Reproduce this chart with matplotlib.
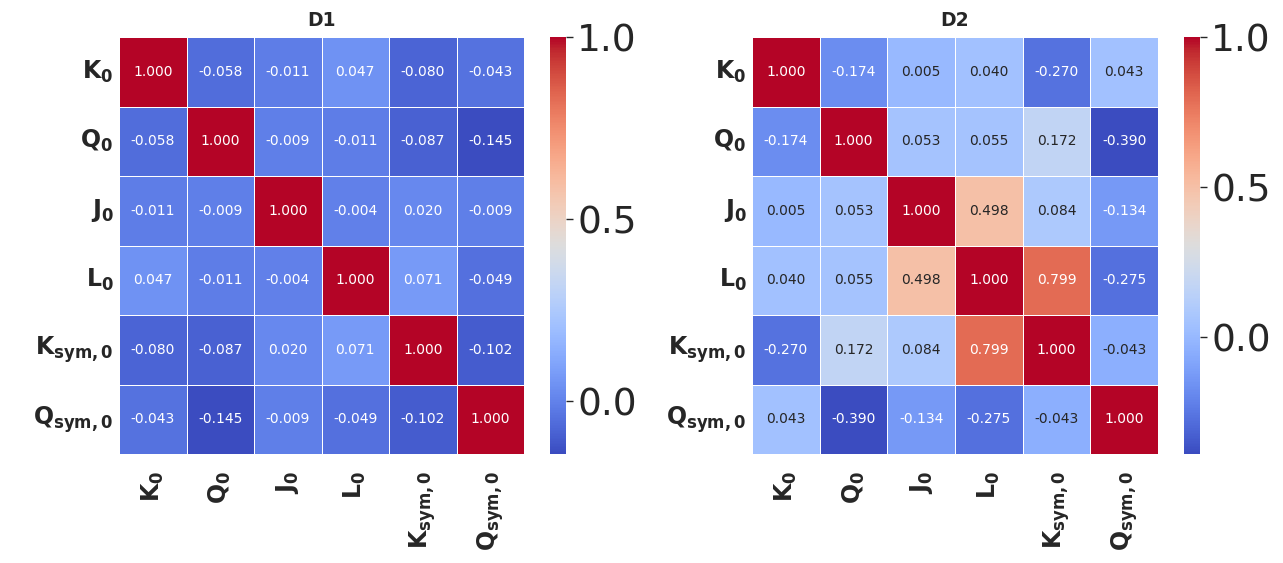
import numpy as np
import matplotlib
matplotlib.use("Agg")
import matplotlib.pyplot as plt
import seaborn as sns

labels = [r"$\mathbf{K_0}$", r"$\mathbf{Q_0}$", r"$\mathbf{J_0}$", r"$\mathbf{L_0}$",
          r"$\mathbf{K_{sym,0}}$", r"$\mathbf{Q_{sym,0}}$"]

d1 = [
    [1.000, -0.058, -0.011, 0.047, -0.080, -0.043],
    [-0.058, 1.000, -0.009, -0.011, -0.087, -0.145],
    [-0.011, -0.009, 1.000, -0.004, 0.020, -0.009],
    [0.047, -0.011, -0.004, 1.000, 0.071, -0.049],
    [-0.080, -0.087, 0.020, 0.071, 1.000, -0.102],
    [-0.043, -0.145, -0.009, -0.049, -0.102, 1.000],
]

d2 = [
    [1.000, -0.174, 0.005, 0.040, -0.270, 0.043],
    [-0.174, 1.000, 0.053, 0.055, 0.172, -0.390],
    [0.005, 0.053, 1.000, 0.498, 0.084, -0.134],
    [0.040, 0.055, 0.498, 1.000, 0.799, -0.275],
    [-0.270, 0.172, 0.084, 0.799, 1.000, -0.043],
    [0.043, -0.390, -0.134, -0.275, -0.043, 1.000],
]

titles = ["D1", "D2"]

sns.set_theme(style="white")

fig = plt.figure(figsize=(12.83, 5.63), dpi=100)
W, H = 1283, 563


def box(x0, x1, y0, y1):
    return [x0 / W, (H - y1) / H, (x1 - x0) / W, (y1 - y0) / H]


axes = [fig.add_axes(box(119, 524, 37, 454)), fig.add_axes(box(752, 1158, 37, 454))]
caxes = [fig.add_axes(box(550, 566, 37, 454)), fig.add_axes(box(1184, 1200, 37, 454))]

for ax, cax, data, title in zip(axes, caxes, [d1, d2], titles):
    sns.heatmap(np.array(data), ax=ax, cbar_ax=cax, cmap="coolwarm", annot=True,
                fmt=".3f", linewidths=0.5, linecolor="white",
                annot_kws={"size": 10}, xticklabels=labels, yticklabels=labels)
    ax.set_title(title, fontsize=13.5, fontweight="bold", pad=8)
    ax.set_xticklabels(labels, rotation=90, fontsize=17)
    ax.set_yticklabels(labels, rotation=0, fontsize=17)
    ax.tick_params(axis="x", length=0, pad=12)
    ax.tick_params(axis="y", length=0, pad=4)
    cax.set_yticks([0.0, 0.5, 1.0])
    cax.tick_params(labelsize=27, length=5, width=1, pad=3)

fig.savefig("out.png", dpi=100)
